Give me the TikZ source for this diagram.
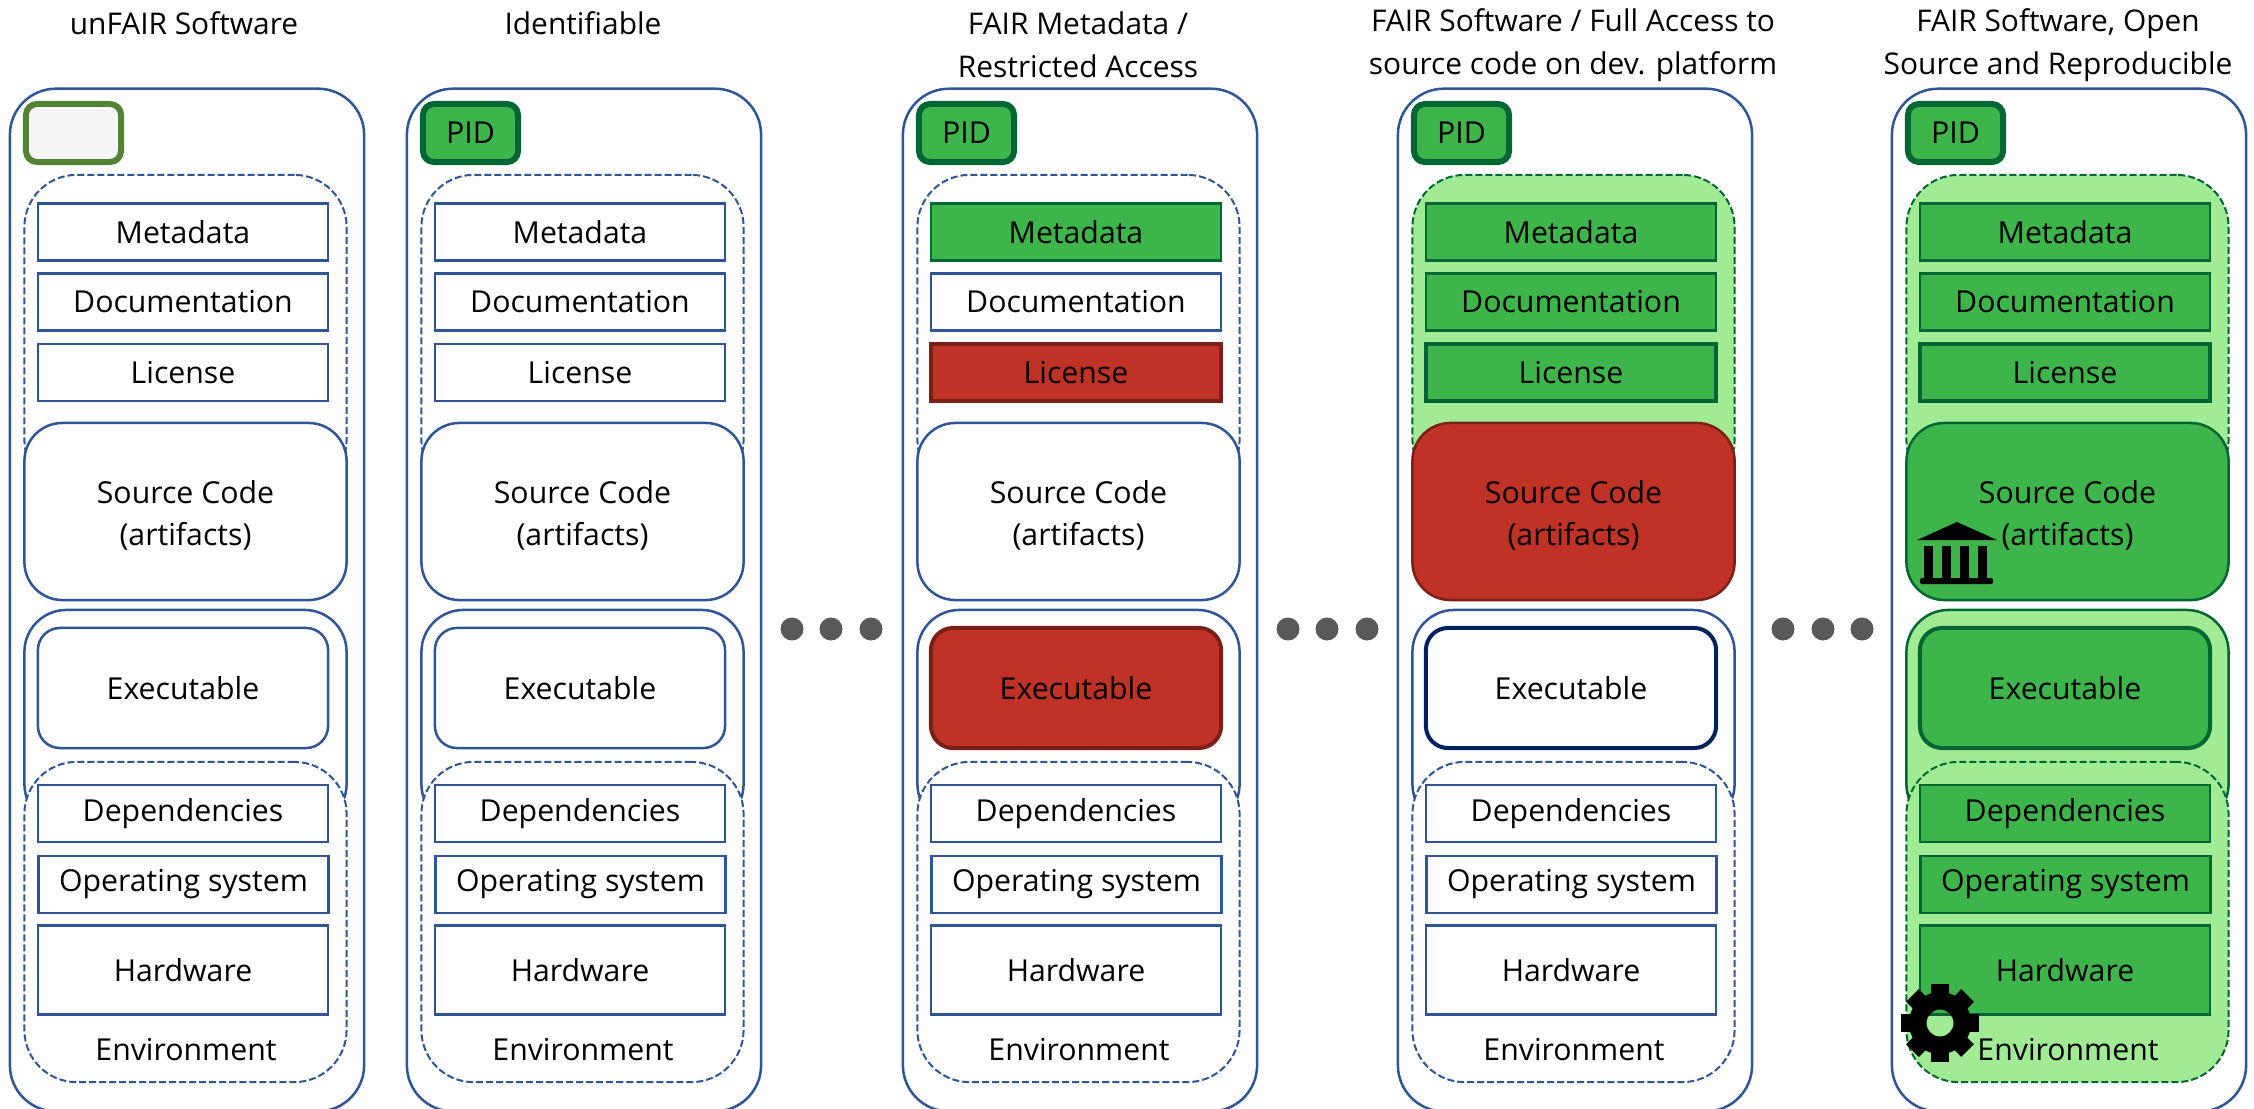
\documentclass[tikz,border=0pt]{standalone}
\usepackage{fontspec}
\setmainfont{Open Sans}
\definecolor{stackblue}{HTML}{2F5597}
\definecolor{navyline}{HTML}{002060}
\definecolor{midgreen}{HTML}{3EB54A}
\definecolor{darkgreen}{HTML}{006633}
\definecolor{lightgreen}{HTML}{A0EB94}
\definecolor{stackred}{HTML}{C03126}
\definecolor{darkred}{HTML}{7B2018}
\definecolor{dotgray}{HTML}{595959}
\definecolor{olivegreen}{HTML}{548235}
\definecolor{emptygray}{HTML}{F5F5F5}
\tikzset{
  stackbox/.style={rectangle, inner sep=0pt, line width=0.025cm, font=\fontsize{8.6}{11.95}\selectfont, align=center},
  paintwhite/.style={draw=stackblue, fill=white},
  paintgreen/.style={draw=darkgreen, fill=midgreen},
  paintred/.style={draw=darkred, fill=stackred},
  paintlight/.style={draw=darkgreen, fill=lightgreen},
  pidpaint/.style={draw=darkgreen, fill=midgreen},
  grouppaint/.style={paintwhite},
  metapaint/.style={paintwhite},
  docpaint/.style={paintwhite},
  licpaint/.style={paintwhite},
  srcpaint/.style={paintwhite},
  exopaint/.style={paintwhite},
  exepaint/.style={paintwhite},
  envpaint/.style={paintwhite},
  hostpaint/.style={paintwhite},
  rowbox/.style={stackbox, minimum width=2.9cm, minimum height=0.57cm},
  dashbox/.style={stackbox, dash pattern=on 0.07cm off 0.03cm, line width=0.02cm, minimum width=3.22cm, rounded corners=0.52cm},
  titletext/.style={font=\fontsize{8.5}{12.2}\selectfont, align=center, inner sep=0pt},
  dotmark/.style={circle, fill=dotgray, minimum size=0.23cm, inner sep=0pt},
}
% one software stack, the paint styles come from the scope around it
\newcommand{\softstack}[2]{%
  \node[stackbox, paintwhite, minimum width=3.54cm, minimum height=10.22cm, rounded corners=0.46cm] (outer#1) at (187,600) {};
  \node[stackbox, pidpaint, line width=0.06cm, minimum width=0.95cm, minimum height=0.58cm, rounded corners=0.11cm] (pid#1) at (73.5,133) {#2};
  \node[dashbox, grouppaint, minimum height=3.17cm] (group#1) at (185.5,333.5) {};
  \node[rowbox, metapaint] (meta#1) at (183,232) {Metadata};
  \node[rowbox, docpaint] (doc#1) at (183,302) {Documentation};
  \node[rowbox, licpaint] (lic#1) at (183,372.5) {License};
  \node[stackbox, srcpaint, minimum width=3.22cm, minimum height=1.77cm, rounded corners=0.38cm] (src#1) at (185.5,511.5) {};
  \node[stackbox] (srclabel#1) at (185.5,515) {Source Code\\(artifacts)};
  \node[stackbox, exopaint, minimum width=3.22cm, minimum height=2.16cm, rounded corners=0.42cm] (exo#1) at (185.5,718) {};
  \node[stackbox, exepaint, minimum width=2.9cm, minimum height=1.2cm, rounded corners=0.22cm] (exe#1) at (183,688) {Executable};
  \node[dashbox, envpaint, minimum height=3.2cm] (env#1) at (185.5,922) {};
  \node[rowbox, hostpaint] (dep#1) at (183,813.5) {Dependencies};
  \node[rowbox, hostpaint] (os#1) at (183.5,884.5) {Operating system};
  \node[rowbox, hostpaint, minimum height=0.885cm] (hw#1) at (183,970) {Hardware};
  \node[inner sep=0pt, font=\fontsize{8.6}{11.95}\selectfont] (envlabel#1) at (186,1050) {Environment};
}
\begin{document}
\begin{tikzpicture}[x=0.01cm, y=-0.01cm]
    \clip (0,0) rectangle (2254,1109);
    \fill[white] (0,0) rectangle (2254,1109);

    \node[titletext] (title1) at (184,23) {unFAIR Software};
    \node[titletext] (title2) at (583,23) {Identifiable};
    \node[titletext] (title3) at (1078,45) {FAIR Metadata /\\Restricted Access};
    \node[titletext] (title4) at (1573,45) {FAIR Software / Full Access to\\source code on dev. platform};
    \node[titletext] (title5) at (2058,45) {FAIR Software, Open\\Source and Reproducible};

    \begin{scope}[pidpaint/.style={draw=olivegreen, fill=emptygray}]
        \softstack{1}{}
    \end{scope}

    \begin{scope}[shift={(397,0)}]
        \softstack{2}{PID}
    \end{scope}

    \begin{scope}[shift={(893,0)}, metapaint/.style={paintgreen}, licpaint/.style={paintred, line width=0.04cm}, exepaint/.style={paintred, line width=0.04cm}]
        \softstack{3}{PID}
    \end{scope}

    \begin{scope}[shift={(1388,0)}, grouppaint/.style={paintlight}, metapaint/.style={paintgreen}, docpaint/.style={paintgreen}, licpaint/.style={paintgreen, line width=0.04cm}, srcpaint/.style={paintred}, exepaint/.style={draw=navyline, fill=white, line width=0.04cm}]
        \softstack{4}{PID}
    \end{scope}

    \begin{scope}[shift={(1882,0)}, grouppaint/.style={paintlight}, metapaint/.style={paintgreen}, docpaint/.style={paintgreen}, licpaint/.style={paintgreen, line width=0.04cm}, srcpaint/.style={paintgreen}, exopaint/.style={paintlight}, exepaint/.style={paintgreen, line width=0.04cm}, envpaint/.style={paintlight}, hostpaint/.style={paintgreen}]
        \softstack{5}{PID}
    \end{scope}

    \foreach \n/\x in {a/792, b/831, c/871, d/1288, e/1327, f/1367, g/1783, h/1823, i/1862} {
        \node[dotmark] (dot\n) at (\x,629) {};
    }

    % bank icon on the source code box
    \fill (1917,540) -- (1957,522) -- (1997,540) -- cycle;
    \foreach \x in {1924,1942,1960,1978} {
        \fill (\x,546) rectangle +(9,32);
    }
    \fill[rounded corners=0.02cm] (1920,578) rectangle (1993,584);

    % gear icon on the environment box
    \fill[even odd rule] (1940,1023) circle (0.31cm) (1940,1023) circle (0.135cm);
    \foreach \a in {0,45,...,315} {
        \fill[shift={(1940,1023)}, rotate=\a] (-9,25) rectangle (9,39);
    }
\end{tikzpicture}
\end{document}
